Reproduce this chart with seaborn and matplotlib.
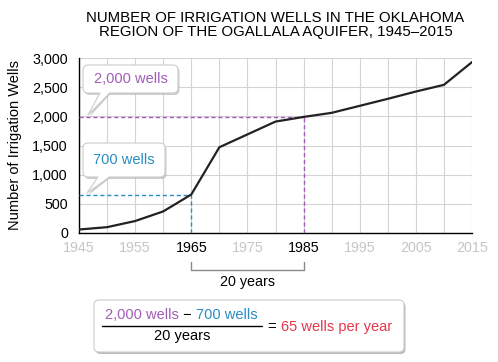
import matplotlib
matplotlib.use("Agg")
import matplotlib.pyplot as plt
import matplotlib.transforms as mtransforms
from matplotlib.patches import FancyBboxPatch, Polygon
from matplotlib.lines import Line2D
from matplotlib.text import Annotation
import seaborn as sns

W, H = 498, 362

years = [1945, 1950, 1955, 1960, 1965, 1970, 1975, 1980,
         1985, 1990, 1995, 2000, 2005, 2010, 2015]
wells = [60, 100, 205, 370, 660, 1470, 1690, 1910,
         1990, 2060, 2180, 2300, 2425, 2540, 2930]
label_years = [1945, 1955, 1965, 1975, 1985, 1995, 2005, 2015]
highlight_years = [1965, 1985]
y_ticks = [0, 500, 1000, 1500, 2000, 2500, 3000]

PURPLE = "#a25db6"
BLUE = "#2a8cc2"
RED = "#e4374b"
BORDER = "#cccccc"

sns.set_theme(style="whitegrid")
plt.rcParams["font.family"] = ["Liberation Sans", "DejaVu Sans"]

fig = plt.figure(figsize=(W / 100, H / 100), dpi=100)
ax = fig.add_axes([79 / W, 1 - 233 / H, 393 / W, 175 / H])

# pixel coordinates from the top-left corner of the figure
px = mtransforms.Affine2D().scale(1 / W, -1 / H).translate(0, 1) + fig.transFigure

sns.lineplot(x=years, y=wells, color="#222222", linewidth=1.6, ax=ax, zorder=4)

ax.set_xlim(1945, 2015)
ax.set_ylim(0, 3000)
ax.set_xticks(years)
ax.set_xticklabels([str(y) if y in label_years else "" for y in years])
for lbl, y in zip(ax.get_xticklabels(), years):
    lbl.set_color("black" if y in highlight_years else "#c6c6c6")
ax.set_yticks(y_ticks)
ax.set_yticklabels([f"{v:,}" for v in y_ticks])
ax.tick_params(axis="both", direction="inout", length=6, width=1,
               color="black", labelsize=10.3)
ax.tick_params(axis="x", pad=3)
ax.tick_params(axis="y", pad=5, labelcolor="black")
ax.grid(True, color="#d4d4d4", linewidth=0.8)
ax.set_facecolor("white")
for side in ["top", "right"]:
    ax.spines[side].set_visible(False)
for side in ["left", "bottom"]:
    ax.spines[side].set_color("black")
    ax.spines[side].set_linewidth(1)
ax.set_ylabel("Number of Irrigation Wells", fontsize=10.5, color="black")
ax.yaxis.set_label_coords(-0.146, 0.5)
ax.set_xlabel("")

fig.text(275.5 / W, 1 - 25 / H,
         "NUMBER OF IRRIGATION WELLS IN THE OKLAHOMA\nREGION OF THE OGALLALA AQUIFER, 1945\u20132015",
         ha="center", va="center", fontsize=10.8, linespacing=1.02, color="black")

# dashed guide lines
v65 = wells[years.index(1965)]
v85 = wells[years.index(1985)]
dash = (0, (3, 2))
ax.plot([1945, 1965], [v65, v65], ls=dash, color=BLUE, lw=1, zorder=3)
ax.plot([1965, 1965], [0, v65], ls=dash, color=BLUE, lw=1, zorder=3)
ax.plot([1945, 1985], [v85, v85], ls=dash, color=PURPLE, lw=1, zorder=3)
ax.plot([1985, 1985], [0, v85], ls=dash, color=PURPLE, lw=1, zorder=3)


def rbox(x0, y0, x1, y1, shadow="#b8b8b8"):
    w, h = x1 - x0, y1 - y0
    fig.add_artist(FancyBboxPatch((x0 + 1.5, y0 + 2), w, h,
                                  boxstyle="round,pad=0,rounding_size=5",
                                  transform=px, fc=shadow, ec="none", alpha=0.7))
    fig.add_artist(FancyBboxPatch((x0, y0), w, h,
                                  boxstyle="round,pad=0,rounding_size=5",
                                  transform=px, fc="white", ec=BORDER, lw=0.8))


def callout(x0, y0, x1, y1, b0, b1, tip, label, color):
    fig.add_artist(Polygon([(b0 + 1.5, y1), (tip[0] + 1.5, tip[1] + 2), (b1 + 1.5, y1)],
                           transform=px, fc="#b8b8b8", ec="none", alpha=0.7))
    rbox(x0, y0, x1, y1)
    fig.add_artist(Polygon([(b0, y1 - 1), tip, (b1, y1 - 1)],
                           transform=px, fc="white", ec="none"))
    fig.add_artist(Line2D([b0, tip[0], b1], [y1, tip[1], y1],
                          transform=px, color=BORDER, lw=0.8))
    fig.text((x0 + x1) / 2 / W, 1 - (y0 + y1) / 2 / H, label, ha="center",
             va="center", fontsize=10.5, color=color)


def after(prev, label, color):
    # text placed right after the previous piece, on the same baseline
    a = Annotation(label, xy=(1, 0), xycoords=prev, ha="left", va="bottom",
                   fontsize=10.5, color=color, annotation_clip=False)
    a.set_zorder(5)
    fig.add_artist(a)
    return a


callout(83, 65, 178, 93, 100, 110, (88, 115), "2,000 wells", PURPLE)
callout(83, 143, 165, 177, 98, 110, (87, 193), "700 wells", BLUE)

# bracket under the 20-year span
bt = mtransforms.blended_transform_factory(ax.transData, px)
fig.add_artist(Line2D([1965, 1965, 1985, 1985], [262, 270, 270, 262],
                      transform=bt, color="#8a8a8a", lw=1))
fig.text(1975, 282, "20 years", transform=bt, ha="center", va="center",
         fontsize=10.3, color="black")

# formula box
rbox(94, 300, 404, 352, shadow="#a0a0a0")
t1 = fig.text(105 / W, 1 - 319 / H, "2,000 wells", ha="left", va="baseline",
              fontsize=10.5, color=PURPLE, zorder=5)
t2 = after(t1, " \u2212 ", "black")
after(t2, "700 wells", BLUE)
fig.add_artist(Line2D([102, 262], [326, 326], transform=px, color="black", lw=1))
fig.text(182 / W, 1 - 340 / H, "20 years", ha="center", va="baseline",
         fontsize=10.5, color="black", zorder=5)
t4 = fig.text(268 / W, 1 - 331 / H, "= ", ha="left", va="baseline",
              fontsize=10.5, color="black", zorder=5)
after(t4, "65 wells per year", RED)

fig.savefig("out.png", dpi=100, facecolor="white")
